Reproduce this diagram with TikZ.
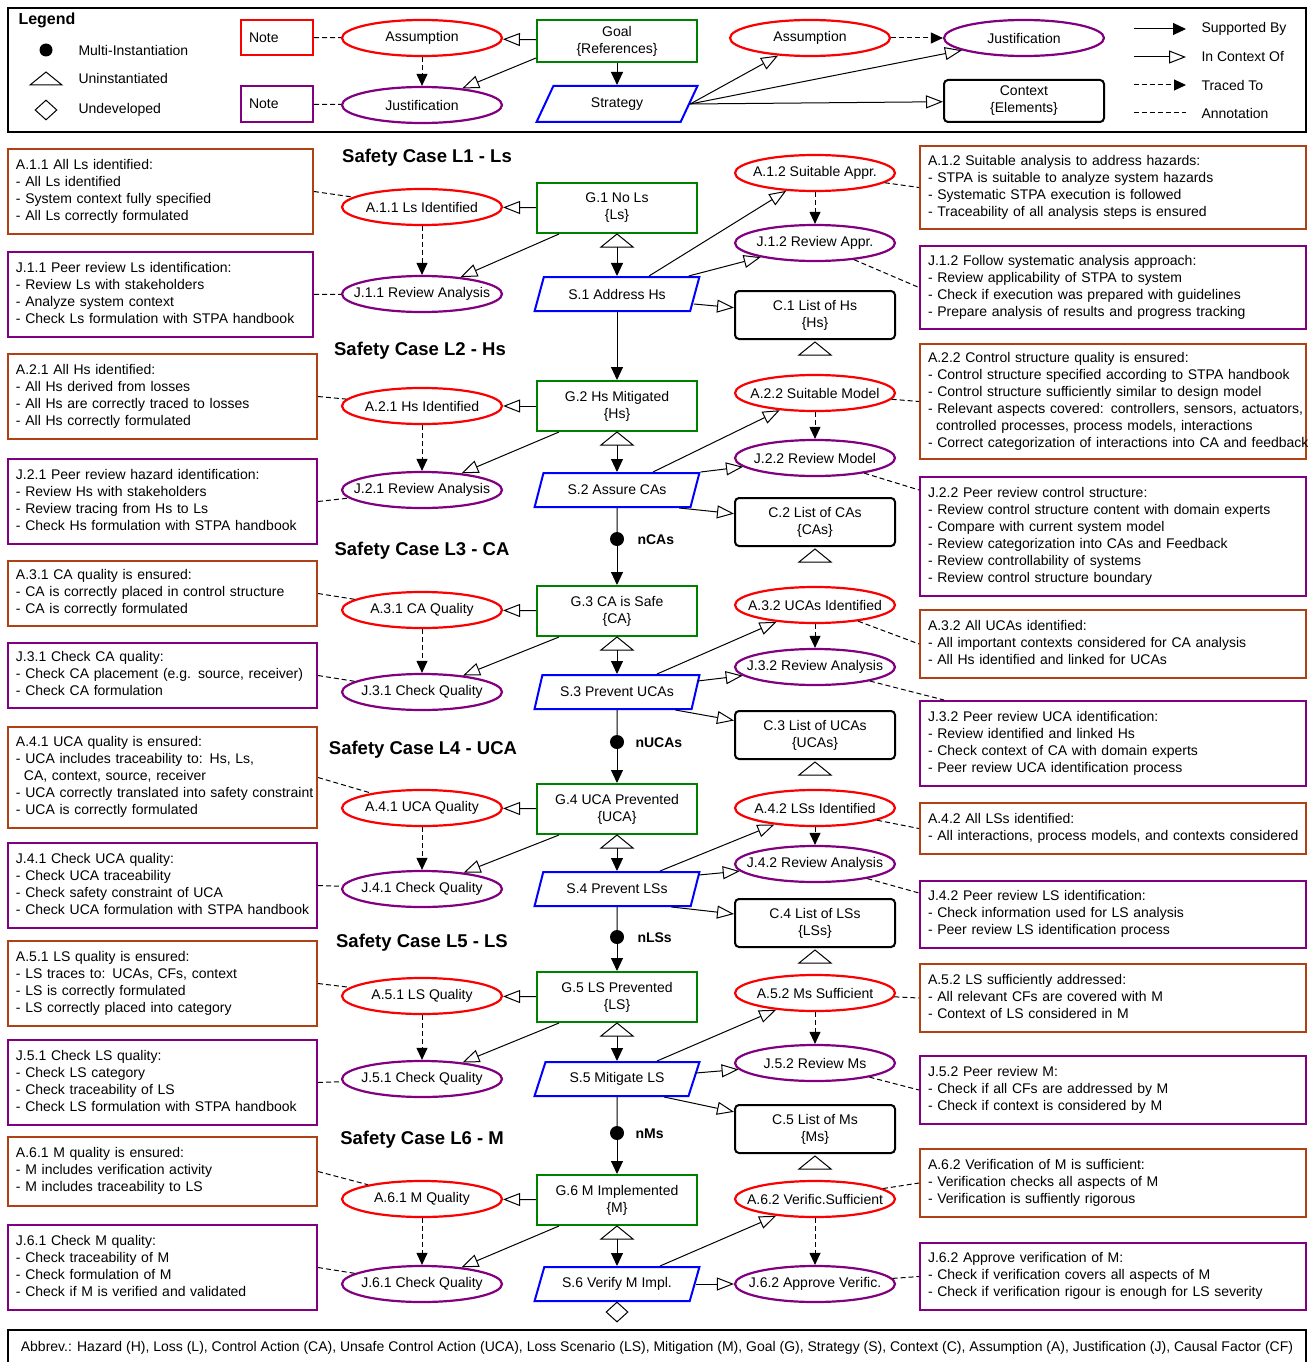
\documentclass[tikz,border=0pt]{standalone}
\usepackage{fontspec}
\setmainfont{Liberation Sans}
\usepackage{tikz}
\usetikzlibrary{shapes.geometric,arrows.meta,calc}

\definecolor{asred}{RGB}{250,0,0}
\definecolor{jspurple}{RGB}{128,0,128}
\definecolor{gsgreen}{RGB}{0,128,0}
\definecolor{stblue}{RGB}{0,0,255}
\definecolor{anbrown}{RGB}{175,65,20}

\newcommand{\notelines}[1]{\noindent\begin{tabular}{@{}l@{}}#1\end{tabular}}

\tikzset{
  frame/.style={line width=2.5pt},
  goal/.style={draw=gsgreen, line width=2pt, minimum width=160pt, minimum height=50pt, align=center, inner sep=2pt},
  strat/.style={trapezium, trapezium left angle=66, trapezium right angle=114, trapezium stretches=true,
    draw=stblue, line width=2pt, minimum width=165pt, minimum height=34pt, inner sep=2pt},
  assum/.style={ellipse, draw=asred, line width=2.2pt, minimum width=160pt, minimum height=36pt, inner xsep=-30pt, inner ysep=0pt},
  justif/.style={ellipse, draw=jspurple, line width=2.2pt, minimum width=160pt, minimum height=36pt, inner xsep=-30pt, inner ysep=0pt},
  ctxbox/.style={draw, rounded corners=4pt, line width=2pt, minimum width=160pt, minimum height=48pt, align=center, inner sep=2pt},
  notebox/.style={draw, line width=2pt, inner xsep=8pt, inner ysep=0pt, align=left},
  anote/.style={notebox, draw=anbrown},
  jnote/.style={notebox, draw=jspurple},
  lnote/.style={text width=293pt, minimum height=85pt},
  rnote/.style={text width=370pt},
  sctitle/.style={font=\bfseries\fontsize{18.5}{22}\selectfont},
  mdot/.style={circle, fill=black, inner sep=0pt, minimum size=14pt},
  mlabel/.style={anchor=west, font=\bfseries\fontsize{14}{17}\selectfont},
  undev/.style={diamond, draw, line width=1pt, minimum width=22pt, minimum height=20pt, inner sep=0pt},
  supp/.style={line width=1pt, -{Triangle[length=13pt,width=12pt]}},
  ctx/.style={line width=1pt, -{Triangle[open,length=17pt,width=13pt]}},
  traced/.style={line width=1pt, dash pattern=on 5pt off 3pt, -{Triangle[length=12pt,width=11pt]}},
  annot/.style={line width=1pt, dash pattern=on 5pt off 3pt},
  uninst/.pic={\draw[line width=1pt, fill=white] (0,0) -- (16,13) -- (-16,13) -- cycle;}
}

\begin{document}
\begin{tikzpicture}[x=1pt,y=-1pt,font=\fontsize{14}{17}\selectfont]
\useasboundingbox (0,0) rectangle (1312,1362);
\draw[frame] (8,8) rectangle (1306,132);

\node[anchor=west, font=\bfseries\fontsize{16}{19}\selectfont] (lgd) at (15,20) {Legend};
\node[mdot, minimum size=13pt] (lgdot) at (46,50) {};
\node[anchor=west] (lgmulti) at (75,50) {Multi-Instantiation};
\pic at (46,72) {uninst};
\node[anchor=west] (lguninst) at (75,78) {Uninstantiated};
\node[undev] (lgdiam) at (46,110) {};
\node[anchor=west] (lgundev) at (75,110) {Undeveloped};
\node[notebox, draw=asred, text width=56pt, minimum height=35pt] (lgna) at (277,37.5) {Note};
\node[jnote, text width=56pt, minimum height=36pt] (lgnj) at (277,104) {Note};
\node[assum] (lga) at (422,38) {Assumption};
\node[justif] (lgj) at (422,105) {Justification};
\node[goal, minimum height=42pt] (lgg) at (617,41) {Goal\\\{References\}};
\node[strat, minimum height=36pt, minimum width=162pt] (lgs) at (617,104) {Strategy};
\node[assum] (lga2) at (810,38) {Assumption};
\node[justif] (lgj2) at (1024,38) {Justification};
\node[ctxbox, minimum height=42pt] (lgc) at (1024,101) {Context\\\{Elements\}};
\draw[annot] (lgna) -- (lga);
\draw[annot] (lgnj) -- (lgj);
\draw[traced] (lga) -- (lgj);
\draw[ctx] (lgg) -- (lga);
\draw[ctx] ($(lgg.south west)+(0,-5)$) -- (lgj);
\draw[supp] (lgg) -- (lgs);
\draw[ctx] (lgs.east) -- (lga2);
\draw[ctx] (lgs.east) -- (lgj2);
\draw[ctx] (lgs.east) -- (lgc);
\draw[traced] (lga2) -- (lgj2);
\coordinate (k1a) at (1134,29); \coordinate (k1b) at (1186,29);
\coordinate (k2a) at (1134,57); \coordinate (k2b) at (1186,57);
\coordinate (k3a) at (1134,85); \coordinate (k3b) at (1186,85);
\coordinate (k4a) at (1134,113); \coordinate (k4b) at (1186,113);
\draw[supp] (k1a) -- (k1b);
\draw[ctx] (k2a) -- (k2b);
\draw[traced] (k3a) -- (k3b);
\draw[annot] (k4a) -- (k4b);
\node[anchor=west] (k1) at (1198,29) {Supported By};
\node[anchor=west] (k2) at (1198,57) {In Context Of};
\node[anchor=west] (k3) at (1198,85) {Traced To};
\node[anchor=west] (k4) at (1198,113) {Annotation};

\node[sctitle] (t1) at (427,158) {Safety Case L1 - Ls};
\node[anote, lnote, text width=289pt] (an1) at (160.5,191.5) {\notelines{A.1.1 All Ls identified:\\- All Ls identified\\- System context fully specified\\- All Ls correctly formulated}};
\node[jnote, lnote, text width=289pt] (jn1) at (160.5,294.5) {\notelines{J.1.1 Peer review Ls identification:\\- Review Ls with stakeholders\\- Analyze system context\\- Check Ls formulation with STPA handbook}};
\node[assum] (al1) at (422,207) {A.1.1 Ls Identified};
\node[justif] (jl1) at (422,294) {J.1.1 Review Analysis};
\node[goal] (g1) at (617,208) {G.1 No Ls\\\{Ls\}};
\node[strat] (s1) at (617,294) {S.1 Address Hs};
\node[assum] (ar1) at (815,173) {A.1.2 Suitable Appr.};
\node[justif] (jr1) at (815,243) {J.1.2 Review Appr.};
\node[ctxbox] (c1) at (815,315) {C.1 List of Hs\\\{Hs\}};
\node[anote, rnote, minimum height=83pt] (anr1) at (1113,187.5) {\notelines{A.1.2 Suitable analysis to address hazards:\\- STPA is suitable to analyze system hazards\\- Systematic STPA execution is followed\\- Traceability of all analysis steps is ensured}};
\node[jnote, rnote, minimum height=83pt] (jnr1) at (1113,287.5) {\notelines{J.1.2 Follow systematic analysis approach:\\- Review applicability of STPA to system\\- Check if execution was prepared with guidelines\\- Prepare analysis of results and progress tracking}};
\draw[annot] (an1.east) -- (al1);
\draw[annot] (jn1.east) -- (jl1);
\draw[ctx] (g1) -- (al1);
\draw[ctx] ($(g1.south west)+(23,0)$) -- (jl1);
\draw[traced] (al1) -- (jl1);
\pic at (g1.south) {uninst};
\coordinate (u1) at ($(g1.south)+(0,13)$);
\draw[supp] (u1) -- (s1);
\draw[ctx] ($(s1.north)+(32,0)$) -- (ar1);
\draw[ctx] ($(s1.top right corner)+(-12,0)$) -- (jr1);
\draw[ctx] ($(s1.bottom right corner)+(3,-8)$) -- (c1);
\draw[traced] (ar1) -- (jr1);
\draw[annot] (ar1) -- (anr1.west);
\draw[annot] (jr1) -- (jnr1.west);
\pic at ($(c1.south)+(0,2)$) {uninst};

\node[sctitle] (t2) at (420,351) {Safety Case L2 - Hs};
\node[anote, lnote] (an2) at (162.5,396.5) {\notelines{A.2.1 All Hs identified:\\- All Hs derived from losses\\- All Hs are correctly traced to losses\\- All Hs correctly formulated}};
\node[jnote, lnote] (jn2) at (162.5,501.5) {\notelines{J.2.1 Peer review hazard identification:\\- Review Hs with stakeholders\\- Review tracing from Hs to Ls\\- Check Hs formulation with STPA handbook}};
\node[assum] (al2) at (422,406) {A.2.1 Hs Identified};
\node[justif] (jl2) at (422,490) {J.2.1 Review Analysis};
\node[goal] (g2) at (617,406) {G.2 Hs Mitigated\\\{Hs\}};
\node[strat] (s2) at (617,490) {S.2 Assure CAs};
\node[assum] (ar2) at (815,393) {A.2.2 Suitable Model};
\node[justif] (jr2) at (815,458) {J.2.2 Review Model};
\node[ctxbox] (c2) at (815,522) {C.2 List of CAs\\\{CAs\}};
\node[anote, rnote, minimum height=115pt] (anr2) at (1113,401.5) {\notelines{A.2.2 Control structure quality is ensured:\\- Control structure specified according to STPA handbook\\- Control structure sufficiently similar to design model\\- Relevant aspects covered: controllers, sensors, actuators,\\\hspace*{8pt}controlled processes, process models, interactions\\- Correct categorization of interactions into CA and feedback}};
\node[jnote, rnote, minimum height=119pt] (jnr2) at (1113,536.5) {\notelines{J.2.2 Peer review control structure:\\- Review control structure content with domain experts\\- Compare with current system model\\- Review categorization into CAs and Feedback\\- Review controllability of systems\\- Review control structure boundary}};
\node[mdot] (md2) at (617,539) {};
\node[mlabel] (ml2) at (634,540) {nCAs};
\draw[supp] (s1) -- (g2);
\draw[annot] (an2.east) -- (al2);
\draw[annot] (jn2.east) -- (jl2);
\draw[ctx] (g2) -- (al2);
\draw[ctx] ($(g2.south west)+(23,0)$) -- (jl2);
\draw[traced] (al2) -- (jl2);
\pic at (g2.south) {uninst};
\coordinate (u2) at ($(g2.south)+(0,13)$);
\draw[supp] (u2) -- (s2);
\draw[ctx] ($(s2.north)+(36,0)$) -- (ar2);
\draw[ctx] (s2.top right corner) -- (jr2);
\draw[ctx] ($(s2.bottom right corner)+(-12,0)$) -- (c2);
\draw[traced] (ar2) -- (jr2);
\draw[annot] (ar2) -- (anr2.west);
\draw[annot] (jr2) -- ($(jnr2.north west)+(0,14)$);
\pic at ($(c2.south)+(0,2)$) {uninst};
\draw[line width=1pt] (s2) -- (md2);

\node[sctitle] (t3) at (422,551) {Safety Case L3 - CA};
\node[anote, lnote, minimum height=65pt] (an3) at (162.5,593.5) {\notelines{A.3.1 CA quality is ensured:\\- CA is correctly placed in control structure\\- CA is correctly formulated}};
\node[jnote, lnote, minimum height=65pt] (jn3) at (162.5,675.5) {\notelines{J.3.1 Check CA quality:\\- Check CA placement (e.g. source, receiver)\\- Check CA formulation}};
\node[assum] (al3) at (422,610) {A.3.1 CA Quality};
\node[justif] (jl3) at (422,692) {J.3.1 Check Quality};
\node[goal] (g3) at (617,611) {G.3 CA is Safe\\\{CA\}};
\node[strat] (s3) at (617,692) {S.3 Prevent UCAs};
\node[assum] (ar3) at (815,605) {A.3.2 UCAs Identified};
\node[justif] (jr3) at (815,667) {J.3.2 Review Analysis};
\node[ctxbox] (c3) at (815,735) {C.3 List of UCAs\\\{UCAs\}};
\node[anote, rnote, minimum height=68pt] (anr3) at (1113,644) {\notelines{A.3.2 All UCAs identified:\\- All important contexts considered for CA analysis\\- All Hs identified and linked for UCAs}};
\node[jnote, rnote, minimum height=85pt] (jnr3) at (1113,743.5) {\notelines{J.3.2 Peer review UCA identification:\\- Review identified and linked Hs\\- Check context of CA with domain experts\\- Peer review UCA identification process}};
\node[mdot] (md3) at (617,742) {};
\node[mlabel] (ml3) at (632,743) {nUCAs};
\draw[supp] (md2) -- (g3);
\draw[annot] (an3.east) -- (al3);
\draw[annot] (jn3.east) -- (jl3);
\draw[ctx] (g3) -- (al3);
\draw[ctx] ($(g3.south west)+(23,0)$) -- (jl3);
\draw[traced] (al3) -- (jl3);
\pic at (g3.south) {uninst};
\coordinate (u3) at ($(g3.south)+(0,13)$);
\draw[supp] (u3) -- (s3);
\draw[ctx] ($(s3.north)+(40,0)$) -- (ar3);
\draw[ctx] ($(s3.top right corner)+(-3,7)$) -- (jr3);
\draw[ctx] ($(s3.bottom right corner)+(-17,0)$) -- (c3);
\draw[traced] (ar3) -- (jr3);
\draw[annot] (ar3) -- (anr3.west);
\draw[annot] (jr3) -- ($(jnr3.north west)+(25,0)$);
\pic at ($(c3.south)+(0,2)$) {uninst};
\draw[line width=1pt] (s3) -- (md3);

\node[sctitle] (t4) at (423,750) {Safety Case L4 - UCA};
\node[anote, lnote, minimum height=101pt] (an4) at (162.5,777.5) {\notelines{A.4.1 UCA quality is ensured:\\- UCA includes traceability to: Hs, Ls,\\\hspace*{8pt}CA, context, source, receiver\\- UCA correctly translated into safety constraint\\- UCA is correctly formulated}};
\node[jnote, lnote] (jn4) at (162.5,885.5) {\notelines{J.4.1 Check UCA quality:\\- Check UCA traceability\\- Check safety constraint of UCA\\- Check UCA formulation with STPA handbook}};
\node[assum] (al4) at (422,808) {A.4.1 UCA Quality};
\node[justif] (jl4) at (422,889) {J.4.1 Check Quality};
\node[goal] (g4) at (617,809) {G.4 UCA Prevented\\\{UCA\}};
\node[strat] (s4) at (617,889) {S.4 Prevent LSs};
\node[assum] (ar4) at (815,808) {A.4.2 LSs Identified};
\node[justif] (jr4) at (815,864) {J.4.2 Review Analysis};
\node[ctxbox] (c4) at (815,923) {C.4 List of LSs\\\{LSs\}};
\node[anote, rnote, minimum height=51pt] (anr4) at (1113,828.5) {\notelines{A.4.2 All LSs identified:\\- All interactions, process models, and contexts considered}};
\node[jnote, rnote, minimum height=67pt] (jnr4) at (1113,914.5) {\notelines{J.4.2 Peer review LS identification:\\- Check information used for LS analysis\\- Peer review LS identification process}};
\node[mdot] (md4) at (617,937) {};
\node[mlabel] (ml4) at (634,938) {nLSs};
\draw[supp] (md3) -- (g4);
\draw[annot] (an4.east) -- (al4);
\draw[annot] (jn4.east) -- (jl4);
\draw[ctx] (g4) -- (al4);
\draw[ctx] ($(g4.south west)+(23,0)$) -- (jl4);
\draw[traced] (al4) -- (jl4);
\pic at (g4.south) {uninst};
\coordinate (u4) at ($(g4.south)+(0,13)$);
\draw[supp] (u4) -- (s4);
\draw[ctx] ($(s4.north)+(43,0)$) -- (ar4);
\draw[ctx] ($(s4.top right corner)+(-2,4)$) -- (jr4);
\draw[ctx] ($(s4.bottom right corner)+(-20,0)$) -- (c4);
\draw[traced] (ar4) -- (jr4);
\draw[annot] (ar4) -- (anr4.west);
\draw[annot] (jr4) -- ($(jnr4.north west)+(0,13)$);
\pic at ($(c4.south)+(0,2)$) {uninst};
\draw[line width=1pt] (s4) -- (md4);

\node[sctitle] (t5) at (422,943) {Safety Case L5 - LS};
\node[anote, lnote] (an5) at (162.5,983.5) {\notelines{A.5.1 LS quality is ensured:\\- LS traces to: UCAs, CFs, context\\- LS is correctly formulated\\- LS correctly placed into category}};
\node[jnote, lnote] (jn5) at (162.5,1082.5) {\notelines{J.5.1 Check LS quality:\\- Check LS category\\- Check traceability of LS\\- Check LS formulation with STPA handbook}};
\node[assum] (al5) at (422,996) {A.5.1 LS Quality};
\node[justif] (jl5) at (422,1079) {J.5.1 Check Quality};
\node[goal] (g5) at (617,997) {G.5 LS Prevented\\\{LS\}};
\node[strat] (s5) at (617,1079) {S.5 Mitigate LS};
\node[assum] (ar5) at (815,993) {A.5.2 Ms Sufficient};
\node[justif] (jr5) at (815,1063) {J.5.2 Review Ms};
\node[ctxbox] (c5) at (815,1129) {C.5 List of Ms\\\{Ms\}};
\node[anote, rnote, minimum height=68pt] (anr5) at (1113,998) {\notelines{A.5.2 LS sufficiently addressed:\\- All relevant CFs are covered with M\\- Context of LS considered in M}};
\node[jnote, rnote, minimum height=68pt] (jnr5) at (1113,1090) {\notelines{J.5.2 Peer review M:\\- Check if all CFs are addressed by M\\- Check if context is considered by M}};
\node[mdot] (md5) at (617,1133) {};
\node[mlabel] (ml5) at (632,1134) {nMs};
\draw[supp] (md4) -- (g5);
\draw[annot] (an5.east) -- (al5);
\draw[annot] (jn5.east) -- (jl5);
\draw[ctx] (g5) -- (al5);
\draw[ctx] ($(g5.south west)+(23,0)$) -- (jl5);
\draw[traced] (al5) -- (jl5);
\pic at (g5.south) {uninst};
\coordinate (u5) at ($(g5.south)+(0,13)$);
\draw[supp] (u5) -- (s5);
\draw[ctx] ($(s5.north)+(40,0)$) -- (ar5);
\draw[ctx] ($(s5.top right corner)+(-5,12)$) -- (jr5);
\draw[ctx] ($(s5.bottom right corner)+(-25,0)$) -- (c5);
\draw[traced] (ar5) -- (jr5);
\draw[annot] (ar5) -- (anr5.west);
\draw[annot] (jr5) -- (jnr5.west);
\pic at ($(c5.south)+(0,2)$) {uninst};
\draw[line width=1pt] (s5) -- (md5);

\node[sctitle] (t6) at (422,1140) {Safety Case L6 - M};
\node[anote, lnote, minimum height=69pt] (an6) at (162.5,1171.5) {\notelines{A.6.1 M quality is ensured:\\- M includes verification activity\\- M includes traceability to LS}};
\node[jnote, lnote] (jn6) at (162.5,1267.5) {\notelines{J.6.1 Check M quality:\\- Check traceability of M\\- Check formulation of M\\- Check if M is verified and validated}};
\node[assum] (al6) at (422,1199) {A.6.1 M Quality};
\node[justif] (jl6) at (422,1284) {J.6.1 Check Quality};
\node[goal] (g6) at (617,1200) {G.6 M Implemented\\\{M\}};
\node[strat] (s6) at (617,1284) {S.6 Verify M Impl.};
\node[assum] (ar6) at (815,1199) {A.6.2 Verific.Sufficient};
\node[justif] (jr6) at (815,1284) {J.6.2 Approve Verific.};
\node[anote, rnote, minimum height=68pt] (anr6) at (1113,1183) {\notelines{A.6.2 Verification of M is sufficient:\\- Verification checks all aspects of M\\- Verification is suffiently rigorous}};
\node[jnote, rnote, minimum height=67pt] (jnr6) at (1113,1276.5) {\notelines{J.6.2 Approve verification of M:\\- Check if verification covers all aspects of M\\- Check if verification rigour is enough for LS severity}};
\node[undev] (ud6) at (617,1312) {};
\draw[supp] (md5) -- (g6);
\draw[annot] (an6.east) -- (al6);
\draw[annot] (jn6.east) -- (jl6);
\draw[ctx] (g6) -- (al6);
\draw[ctx] ($(g6.south west)+(23,0)$) -- (jl6);
\draw[traced] (al6) -- (jl6);
\pic at (g6.south) {uninst};
\coordinate (u6) at ($(g6.south)+(0,13)$);
\draw[supp] (u6) -- (s6);
\draw[ctx] ($(s6.north)+(43,0)$) -- (ar6);
\draw[ctx] (s6) -- (jr6);
\draw[traced] (ar6) -- (jr6);
\draw[annot] (ar6) -- (anr6.west);
\draw[annot] (jr6) -- (jnr6.west);

\draw[frame] (8,1330) rectangle (1306,1368);
\node (abbr) at (657,1348) {Abbrev.: Hazard (H), Loss (L), Control Action (CA), Unsafe Control Action (UCA), Loss Scenario (LS), Mitigation (M), Goal (G), Strategy (S), Context (C), Assumption (A), Justification (J), Causal Factor (CF)};
\end{tikzpicture}
\end{document}
